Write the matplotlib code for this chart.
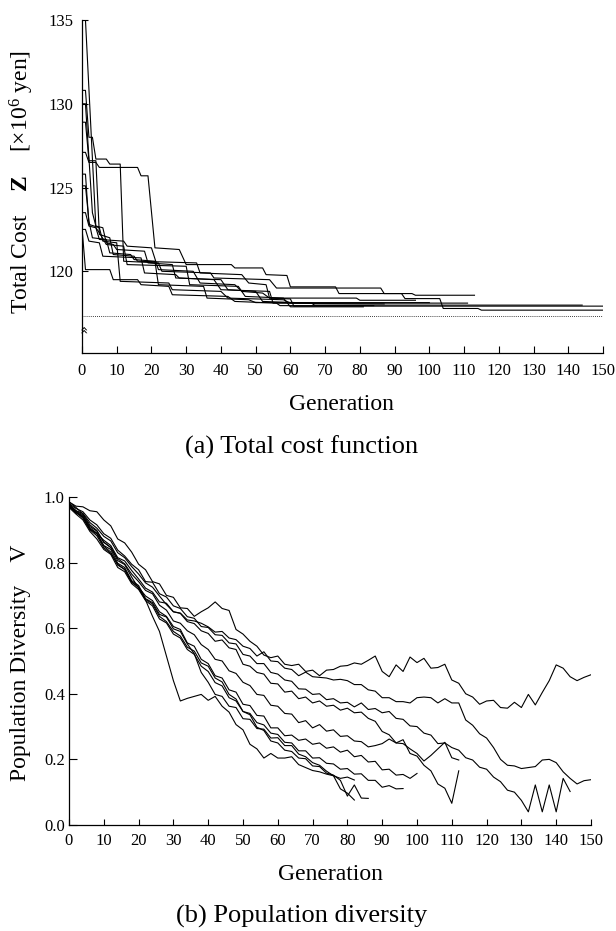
import numpy as np
import matplotlib
matplotlib.use("Agg")
import matplotlib.pyplot as plt

plt.rcParams['font.family'] = ['Liberation Serif', 'DejaVu Serif']
plt.rcParams['mathtext.fontset'] = 'custom'
plt.rcParams['mathtext.rm'] = 'Liberation Serif'
plt.rcParams['mathtext.it'] = 'Liberation Serif:italic'
plt.rcParams['mathtext.bf'] = 'Liberation Serif:bold'

# ---- (a) total cost: best-so-far cost per run, (generation, cost) vertices ----
cost_runs = [
    [(0, 135.0), (1, 135.0), (4, 122.6), (5, 122.3), (7, 121.6), (12, 121.5), (13, 120.4),
     (30, 120.3), (31, 119.2), (45, 119.1), (47, 118.5), (58, 118.4), (60, 117.88), (81, 117.88)],
    [(0, 130.8), (1, 130.8), (2, 128.0), (3, 128.0), (4, 126.7), (7, 126.7), (8, 126.4),
     (11, 126.4), (12, 120.6), (22, 120.5), (23, 120.0), (37, 119.9), (38, 119.6), (54, 119.5),
     (56, 119.0), (86, 119.0), (87, 118.67), (92, 118.67), (93, 118.37), (103, 118.37),
     (104, 117.78), (114, 117.78), (115, 117.68), (150, 117.68)],
    [(0, 127.1), (1, 127.1), (2, 126.5), (4, 126.5), (5, 126.2), (16, 126.2), (17, 125.7),
     (19, 125.7), (21, 121.4), (28, 121.3), (30, 120.4), (43, 120.4), (44, 120.2), (52, 120.2),
     (53, 119.8), (59, 119.75), (60, 119.07), (73, 119.07), (74, 118.67), (95, 118.67),
     (96, 118.57), (113, 118.57)],
    [(0, 130.0), (1, 130.0), (3, 123.5), (4, 122.7), (6, 122.6), (7, 121.7), (9, 121.6),
     (10, 121.3), (18, 121.2), (19, 120.5), (26, 120.4), (27, 119.6), (40, 119.5), (42, 118.9),
     (50, 118.8), (52, 118.2), (66, 118.1), (67, 117.98), (144, 117.98)],
    [(0, 128.9), (1, 128.9), (2, 126.6), (4, 126.6), (5, 122.2), (8, 122.0), (9, 121.0),
     (15, 120.9), (16, 120.6), (33, 120.5), (34, 119.9), (46, 119.8), (48, 119.3), (53, 119.2),
     (54, 118.4), (60, 118.35), (61, 117.92), (150, 117.92)],
    [(0, 125.8), (1, 125.8), (2, 122.8), (5, 122.6), (6, 121.8), (10, 121.7), (11, 119.4),
     (25, 119.3), (26, 118.9), (40, 118.8), (42, 118.4), (58, 118.3), (60, 118.1), (111, 118.1)],
    [(0, 125.1), (1, 125.1), (2, 123.0), (3, 122.0), (7, 121.9), (8, 121.1), (14, 121.0),
     (15, 120.7), (21, 120.6), (22, 119.2), (35, 119.1), (36, 118.4), (48, 118.3), (50, 118.13),
     (100, 118.13)],
    [(0, 123.5), (1, 123.5), (2, 122.7), (4, 122.6), (5, 121.9), (12, 121.8), (13, 121.5),
     (20, 121.4), (22, 120.1), (32, 120.0), (34, 119.3), (44, 119.2), (46, 118.8), (52, 118.7),
     (54, 118.4), (79, 118.4), (80, 118.27), (96, 118.27)],
    [(0, 122.5), (1, 122.5), (2, 121.8), (5, 121.7), (6, 120.9), (17, 120.8), (18, 119.9),
     (27, 119.8), (28, 119.6), (38, 119.5), (40, 118.9), (54, 118.8), (55, 118.1), (87, 118.05)],
    [(0, 122.6), (1, 120.1), (8, 120.1), (9, 119.5), (16, 119.5), (17, 119.2), (25, 119.1),
     (26, 118.6), (42, 118.5), (44, 118.2), (56, 118.1), (57, 117.95), (84, 117.95)],
]
reference_cost = 117.32

# ---- (b) population diversity, sampled every 2 generations ----
div_runs = [
    [.985, .972, .970, .958, .955, .930, .912, .872, .860, .832, .795, .778, .742, .735, .700,
     .694, .662, .660, .636, .650, .662, .680, .660, .654, .596, .582, .560, .545, .518, .510,
     .515, .490, .486, .490, .468, .472, .455, .472, .474, .484, .486, .494, .490, .502, .515,
     .468, .452, .488, .468, .512, .495, .508, .478, .480, .490, .442, .432, .400, .390, .368,
     .378, .380, .358, .356, .374, .358, .398, .366, .404, .440, .488, .478, .452, .440, .450,
     .458],
    [.975, .958, .950, .922, .905, .880, .866, .830, .815, .788, .765, .738, .725, .698, .672,
     .650, .646, .625, .622, .615, .604, .588, .590, .570, .565, .545, .538, .515, .528, .500,
     .498, .478, .474, .455, .466, .452, .450, .448, .442, .444, .440, .428, .428, .412, .408,
     .388, .388, .376, .376, .372, .388, .390, .388, .372, .385, .372, .372, .320, .304, .278,
     .265, .236, .200, .182, .180, .172, .175, .178, .198, .200, .190, .162, .142, .125, .135,
     .138],
    [.980, .965, .955, .930, .915, .888, .874, .838, .820, .795, .778, .742, .740, .705, .695,
     .668, .660, .635, .630, .605, .602, .580, .578, .555, .552, .520, .515, .492, .492, .465,
     .460, .442, .438, .415, .414, .398, .400, .382, .385, .372, .374, .360, .372, .352, .355,
     .342, .346, .325, .322, .302, .300, .280, .274, .248, .250, .236, .228, .205, .198, .176,
     .170, .146, .132, .106, .100, .075, .040, .122, .040, .122, .040, .142, .102],
    [.970, .952, .938, .902, .888, .868, .852, .815, .805, .776, .750, .722, .710, .680, .676,
     .650, .645, .620, .614, .592, .584, .560, .564, .540, .535, .490, .484, .465, .460, .432,
     .430, .405, .408, .385, .390, .372, .378, .362, .365, .350, .356, .342, .344, .325, .316,
     .285, .275, .250, .260, .218, .210, .182, .165, .125, .112, .066, .165],
    [.985, .968, .948, .915, .898, .862, .846, .812, .796, .765, .742, .715, .705, .670, .655,
     .622, .615, .592, .580, .550, .535, .505, .500, .470, .462, .435, .425, .398, .395, .365,
     .362, .340, .338, .312, .318, .296, .306, .286, .290, .270, .272, .256, .254, .238, .242,
     .248, .262, .250, .248, .232, .218, .195, .212, .232, .252, .205, .198],
    [.975, .955, .935, .900, .882, .845, .828, .795, .778, .740, .725, .698, .684, .650, .636,
     .605, .596, .555, .545, .505, .492, .455, .448, .412, .405, .368, .364, .334, .332, .296,
     .296, .272, .274, .258, .262, .246, .250, .234, .238, .222, .228, .208, .212, .192, .194,
     .168, .170, .152, .154, .142, .157],
    [.968, .948, .930, .895, .872, .840, .825, .785, .772, .736, .718, .684, .668, .628, .616,
     .582, .570, .535, .520, .484, .468, .434, .424, .388, .378, .346, .340, .312, .305, .280,
     .276, .252, .250, .226, .226, .204, .205, .188, .186, .170, .172, .155, .156, .136, .136,
     .115, .120, .110, .111],
    [.972, .952, .940, .902, .888, .850, .832, .792, .780, .742, .724, .688, .674, .636, .620,
     .590, .576, .542, .530, .494, .484, .448, .436, .398, .384, .346, .336, .298, .288, .256,
     .250, .228, .224, .204, .202, .180, .178, .158, .152, .136, .088, .122, .082, .081],
    [.980, .958, .945, .910, .896, .862, .846, .806, .794, .756, .722, .686, .636, .590, .515,
     .440, .378, .386, .392, .398, .380, .392, .362, .344, .306, .290, .246, .232, .204, .218,
     .204, .204, .208, .184, .175, .166, .162, .155, .150, .142, .146, .137],
    [.978, .955, .942, .906, .890, .852, .840, .798, .785, .745, .730, .690, .678, .642, .634,
     .598, .590, .552, .522, .465, .435, .398, .392, .362, .358, .324, .322, .294, .292, .265,
     .266, .242, .242, .216, .208, .190, .182, .164, .150, .110, .097, .076],
]
gen_step = 2

x_ticks = list(range(0, 151, 10))
cost_ticks = [120, 125, 130, 135]
div_ticks = [0.0, 0.2, 0.4, 0.6, 0.8, 1.0]

LINE = dict(color='black', lw=0.8)


def style_axes(ax):
    for side in ('top', 'right'):
        ax.spines[side].set_visible(False)
    for side in ('left', 'bottom'):
        ax.spines[side].set_linewidth(0.9)
    ax.set_xlim(0, 150)
    ax.set_xticks(x_ticks)
    ax.tick_params(axis='both', direction='in', labelsize=12, width=0.8)


def draw_cost(ax):
    for run in cost_runs:
        g, c = zip(*run)
        ax.plot(g, c, **LINE)
    ax.axhline(reference_cost, color='black', lw=0.6, ls=(0, (1, 1.5)))
    style_axes(ax)
    ax.set_ylim(115.12, 135)
    ax.set_yticks(cost_ticks)
    ax.tick_params(axis='x', length=5, pad=7)
    ax.tick_params(axis='y', length=4.5, pad=6)
    # broken-axis mark
    ax.text(0, 116.5, '«', rotation=270, ha='center', va='center', fontsize=10,
            family='DejaVu Sans')


def draw_diversity(ax):
    for run in div_runs:
        g = np.arange(len(run)) * gen_step
        ax.plot(g, run, **LINE)
    style_axes(ax)
    ax.set_ylim(0, 1.0)
    ax.set_yticks(div_ticks)
    ax.set_yticklabels([f'{t:.1f}' for t in div_ticks])
    ax.tick_params(axis='x', length=4, pad=6)
    ax.tick_params(axis='y', length=5.5, pad=3)


def main():
    fig = plt.figure(figsize=(6.16, 9.31), dpi=100)

    ax1 = fig.add_axes([0.1331, 0.6208, 0.8458, 0.3577])
    draw_cost(ax1)
    fig.text(0.036, 0.8045, r'Total Cost    $\mathbf{Z}$    [×10$^6$ yen]', rotation=90,
             ha='center', va='center', fontsize=17)
    fig.text(0.555, 0.566, 'Generation', ha='center', va='center', fontsize=17)
    fig.text(0.49, 0.520, '(a) Total cost function', ha='center', va='center', fontsize=19)

    ax2 = fig.add_axes([0.1120, 0.1139, 0.8474, 0.3523])
    draw_diversity(ax2)
    fig.text(0.034, 0.2879, 'Population Diversity    V', rotation=90,
             ha='center', va='center', fontsize=17)
    fig.text(0.536, 0.0602, 'Generation', ha='center', va='center', fontsize=17)
    fig.text(0.49, 0.0161, '(b) Population diversity', ha='center', va='center', fontsize=19)

    fig.savefig('out.png', dpi=100)
    plt.close(fig)


if __name__ == "__main__":
    main()
